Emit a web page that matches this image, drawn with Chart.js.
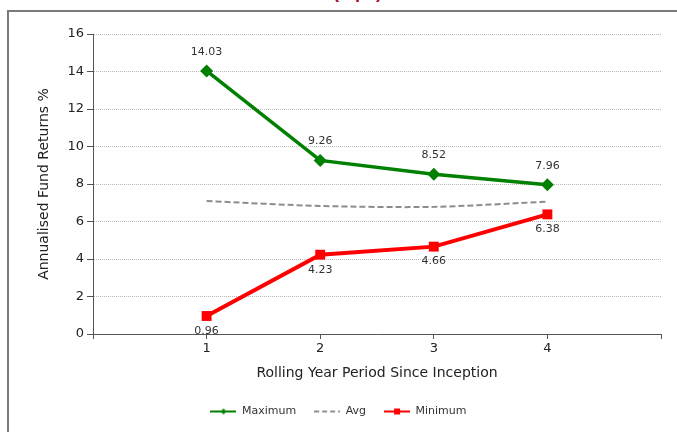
<!DOCTYPE html>
<html><head><meta charset="utf-8">
<script src="https://cdn.jsdelivr.net/npm/chart.js@4"></script>
<style>
html,body{margin:0;padding:0;background:#fff;overflow:hidden;width:677px;height:432px}
#wrap{position:relative;width:677px;height:432px;overflow:hidden}
#frame{position:absolute;left:7px;top:10px;right:-4px;bottom:-4px;border-top:2px solid #7a7a7a;border-left:2px solid #7a7a7a;pointer-events:none}
#ttl{position:absolute;right:295px;top:-17px;font:bold 18px "Liberation Sans";color:#a8102c;line-height:18px;white-space:nowrap}
canvas{position:absolute;left:0;top:0}
</style></head>
<body><div id="wrap"><div id="ttl">Fund Returns (%pa)</div><canvas id="c" width="677" height="432"></canvas><div id="frame"></div></div>
<script>
const periods = [1, 2, 3, 4];
const maximum = [14.03, 9.26, 8.52, 7.96];
const avg = [7.09, 6.83, 6.78, 7.06];
const minimum = [0.96, 4.23, 4.66, 6.38];
const yTicks = [0, 2, 4, 6, 8, 10, 12, 14, 16];
const seriesNames = ['Maximum', 'Avg', 'Minimum'];
const xTitle = 'Rolling Year Period Since Inception';
const yTitle = 'Annualised Fund Returns %';

const FONT = '"DejaVu Sans", Verdana, sans-serif';
const GREEN = '#008000', RED = '#ff0000', GREY = '#8c8c8c';

const pts = arr => periods.map((p, i) => ({x: p, y: arr[i]}));

function icon(color, dash, marker) {
  const c = document.createElement('canvas');
  c.width = 26; c.height = 12;
  const g = c.getContext('2d');
  g.strokeStyle = color; g.lineWidth = 2;
  if (dash) g.setLineDash(dash);
  g.beginPath(); g.moveTo(0, 6); g.lineTo(26, 6); g.stroke();
  g.fillStyle = color;
  if (marker === 'diamond') {
    g.beginPath(); g.moveTo(13, 3); g.lineTo(16, 6); g.lineTo(13, 9); g.lineTo(10, 6); g.closePath(); g.fill();
  } else if (marker === 'square') {
    g.fillRect(10, 3, 6, 6);
  }
  return c;
}
const icons = [icon(GREEN, null, 'diamond'), icon('#909090', [5, 3], null), icon(RED, null, 'square')];

const valueLabels = {
  id: 'valueLabels',
  afterDatasetsDraw(chart) {
    const ctx = chart.ctx;
    ctx.save();
    ctx.font = '11px ' + FONT;
    ctx.fillStyle = '#333';
    ctx.textAlign = 'center';
    ctx.textBaseline = 'middle';
    [[0, -19], [2, 15]].forEach(([di, off]) => {
      const meta = chart.getDatasetMeta(di);
      meta.data.forEach((el, i) => {
        ctx.fillText(chart.data.datasets[di].data[i].y.toFixed(2), el.x, el.y + off);
      });
    });
    ctx.restore();
  }
};

new Chart(document.getElementById('c'), {
  type: 'line',
  data: {
    datasets: [
      {label: seriesNames[0], data: pts(maximum), borderColor: GREEN, backgroundColor: GREEN, borderWidth: 3.5,
       pointStyle: 'rectRot', pointRadius: 6.5, pointBorderWidth: 0, pointHoverRadius: 6.5},
      {label: seriesNames[1], data: pts(avg), borderColor: GREY, backgroundColor: GREY, borderWidth: 2,
       borderDash: [6, 3], pointRadius: 0, tension: 0.3},
      {label: seriesNames[2], data: pts(minimum), borderColor: RED, backgroundColor: RED, borderWidth: 4,
       pointStyle: 'rect', pointRadius: 7, pointBorderWidth: 0, pointHoverRadius: 7}
    ]
  },
  options: {
    responsive: false,
    animation: false,
    events: [],
    layout: {padding: {left: 16, right: 16, top: 34, bottom: 5}},
    plugins: {
      tooltip: {enabled: false},
      legend: {
        position: 'bottom',
        labels: {
          usePointStyle: true,
          pointStyleWidth: 26,
          padding: 18,
          color: '#333',
          font: {family: FONT, size: 11},
          generateLabels: chart => chart.data.datasets.map((d, i) => ({
            text: d.label, pointStyle: icons[i], fontColor: '#333', datasetIndex: i, lineWidth: 0, hidden: false
          }))
        }
      }
    },
    scales: {
      x: {
        type: 'linear', min: 0, max: 5,
        afterFit: s => { s.height = 54; },
        ticks: {stepSize: 1, color: '#222', font: {family: FONT, size: 13}, padding: 2,
                callback: v => (periods.includes(v) ? String(v) : '')},
        grid: {drawOnChartArea: false, drawTicks: true, tickLength: 5, tickColor: '#555', tickWidth: 1},
        border: {display: true, color: '#555', width: 1},
        title: {display: true, text: xTitle, color: '#222', font: {family: FONT, size: 14}, padding: {top: 0, bottom: 6}}
      },
      y: {
        min: 0, max: 16,
        afterFit: s => { s.width = 77; },
        afterBuildTicks: s => { s.ticks = yTicks.map(v => ({value: v})); },
        ticks: {color: '#222', font: {family: FONT, size: 13}, padding: 3},
        grid: {color: '#b8b8b8', lineWidth: 1, tickLength: 6, tickColor: '#555', tickWidth: 1, tickBorderDash: [0, 0]},
        border: {display: true, color: '#555', width: 1, dash: [1, 1]},
        title: {display: true, text: yTitle, color: '#222', font: {family: FONT, size: 14}, padding: {top: 20, bottom: 0}}
      }
    }
  },
  plugins: [valueLabels]
});
</script>
</body></html>
